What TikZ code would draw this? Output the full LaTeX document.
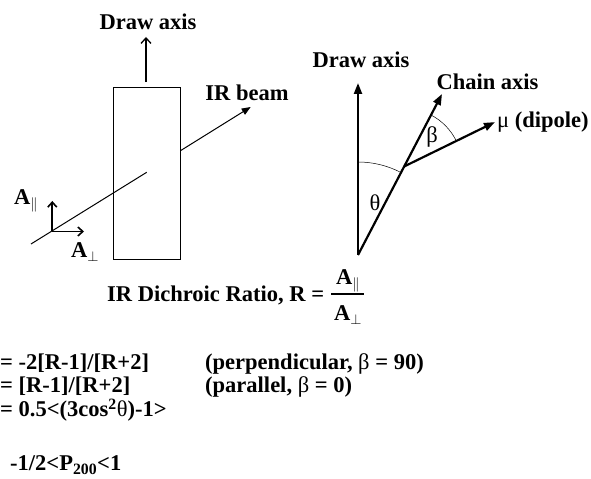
\documentclass[tikz,border=0pt]{standalone}
\usepackage{fontspec}
\setmainfont{Liberation Serif}
\usetikzlibrary{arrows.meta,calc}
\newcommand{\FigText}{\fontsize{22.6}{25}\selectfont\bfseries}
\newcommand{\Greek}[1]{{\mdseries #1}}
\tikzset{
  fig text/.style={font=\FigText,inner sep=0pt,text=black},
  thin axis/.style={draw=black,line width=1.3pt,-{Straight Barb[length=5.5pt,width=10pt,line width=1.3pt]}},
  beam line/.style={draw=black,line width=1pt},
  comp arrow/.style={draw=black,line width=1.8pt,-{Straight Barb[length=5pt,width=9pt,line width=1.6pt]}},
  thick axis/.style={draw=black,line width=2.2pt,-{Triangle[length=11pt,width=8pt]}},
  angle arc/.style={draw=black,line width=0.5pt},
  film box/.style={draw=black,line width=1pt,minimum width=66.6bp,minimum height=172.3bp,inner sep=0pt}
}

\begin{document}
\begin{tikzpicture}[x=1bp,y=1bp]
  \path[use as bounding box] (0,0) rectangle (591,479);

  % sample film with draw axis and IR beam
  \node[film box] (film) at (147,305.2) {};
  \node[fig text,anchor=base] (drawL) at (148,449) {Draw axis};
  \coordinate (drawbaseL) at ($(film.north)+(-1,5)$);
  \coordinate (drawtipL) at (146,442);
  \draw[thin axis] (drawbaseL) -- (drawtipL);

  \coordinate (beamin) at (31,235);
  \coordinate (beamhide) at (146.7,306.7);
  \coordinate (beamout) at (film.east |- 0,328.5);
  \coordinate (beamtip) at (250.7,372);
  \draw[beam line] (beamin) -- (beamhide);
  \draw[beam line,-{Triangle[length=9pt,width=7pt]}] (beamout) -- (beamtip);
  \node[fig text,anchor=base] (beam) at (247,378) {IR beam};

  \coordinate (origin) at (52.3,247.5);
  \coordinate (partip) at (52.3,278);
  \coordinate (perptip) at (84,247.5);
  \draw[comp arrow] (origin) -- (partip);
  \draw[comp arrow] (origin) -- (perptip);
  \node[fig text,anchor=base west] (apar) at (14,274) {A$_{\|}$};
  \node[fig text,anchor=base west] (aperp) at (71,221) {A$_{\perp}$};

  % orientation angles
  \coordinate (bot) at (358,224);
  \coordinate (drawtipR) at (358,396);
  \coordinate (chaintip) at ($(bot)+(62.45:181.6)$);
  \coordinate (pivot) at ($(bot)!0.55!(chaintip)$);
  \coordinate (diptip) at ($(pivot)+(26.05:101)$);
  \draw[thick axis] (bot) -- (drawtipR);
  \draw[thick axis] (bot) -- (chaintip);
  \draw[thick axis] (pivot) -- (diptip);
  \draw[angle arc] (bot) ++(90:93) arc[start angle=90,end angle=62.45,radius=93];
  \draw[angle arc] (pivot) ++(62.45:58) arc[start angle=62.45,end angle=26.05,radius=58];
  \node[fig text,anchor=base] (drawR) at (361,411) {Draw axis};
  \node[fig text,anchor=base] (chain) at (487.5,389) {Chain axis};
  \node[fig text,anchor=base west] (dipole) at (497,351) {\Greek{μ} (dipole)};
  \node[fig text] (theta) at (375,276) {\Greek{θ}};
  \node[fig text] (beta) at (432,342) {\Greek{β}};

  % dichroic ratio
  \node[fig text,anchor=base west] (ratio) at (107,177) {IR Dichroic Ratio, R =};
  \coordinate (barl) at (331,185);
  \coordinate (barr) at (364,185);
  \draw[draw=black,line width=1.3pt] (barl) -- (barr);
  \node[fig text,anchor=base] (num) at (348,194) {A$_{\|}$};
  \node[fig text,anchor=base] (den) at (348,158) {A$_{\perp}$};

  % order parameter relations
  \node[fig text,anchor=base west] (eqa) at (0,109) {= -2[R-1]/[R+2]};
  \node[fig text,anchor=base west] (eqb) at (0,86) {= [R-1]/[R+2]};
  \node[fig text,anchor=base west] (eqc) at (0,62) {= 0.5<(3cos\textsuperscript{2}\Greek{θ})-1>};
  \node[fig text,anchor=base west] (casea) at (205,109) {(perpendicular, \Greek{β} = 90)};
  \node[fig text,anchor=base west] (caseb) at (205,86) {(parallel, \Greek{β} = 0)};
  \node[fig text,anchor=base west] (range) at (10,8) {-1/2<P\textsubscript{200}<1};
\end{tikzpicture}
\end{document}
